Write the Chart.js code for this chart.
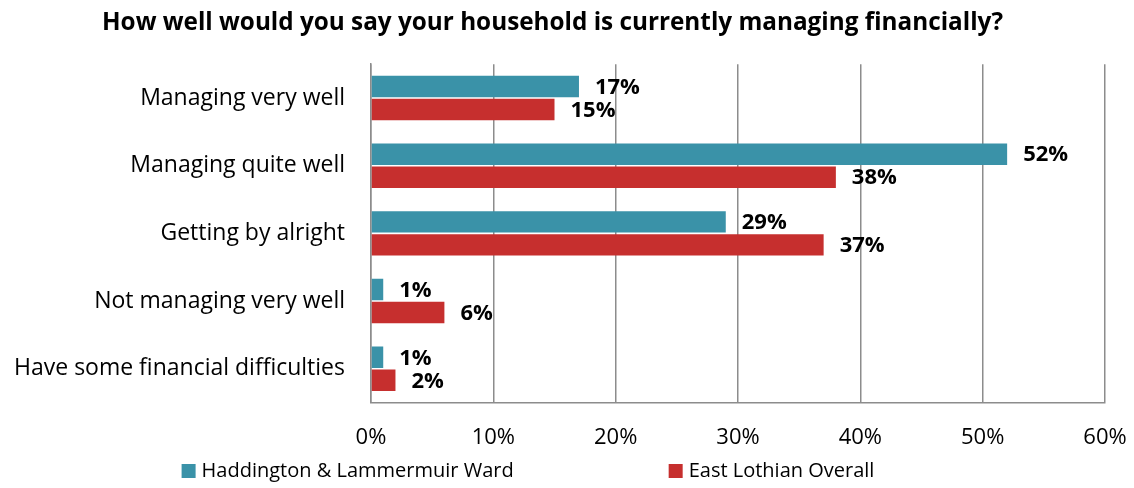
<!DOCTYPE html>
<html lang="en">
<head>
    <meta charset="UTF-8">
    <title>Household finances</title>
    <script src="https://cdn.jsdelivr.net/npm/chart.js"></script>
    <style>
        html, body { margin: 0; padding: 0; background: #ffffff; }
        #wrap { width: 1134px; height: 488px; }
    </style>
</head>
<body>
    <div id="wrap"><canvas id="financeChart"></canvas></div>
    <script>
        // Survey answers
        const categories = [
            'Managing very well',
            'Managing quite well',
            'Getting by alright',
            'Not managing very well',
            'Have some financial difficulties'
        ];
        const seriesNames = ['Haddington & Lammermuir Ward', 'East Lothian Overall'];
        const wardValues = [17, 52, 29, 1, 1];
        const overallValues = [15, 38, 37, 6, 2];
        const xTicks = [0, 10, 20, 30, 40, 50, 60];

        const FONT = '"Open Sans", sans-serif';

        // Bold percentage labels at the end of each bar
        const barLabels = {
            id: 'barLabels',
            afterDatasetsDraw(chart) {
                const ctx = chart.ctx;
                ctx.save();
                ctx.font = 'bold 22px ' + FONT;
                ctx.fillStyle = '#000000';
                ctx.textAlign = 'left';
                ctx.textBaseline = 'middle';
                chart.data.datasets.forEach((ds, i) => {
                    chart.getDatasetMeta(i).data.forEach((bar, j) => {
                        ctx.fillText(ds.data[j] + '%', bar.x + 16, bar.y + 1);
                    });
                });
                ctx.restore();
            }
        };

        // Legend row under the axis, with wide spacing between entries
        const wideLegend = {
            id: 'wideLegend',
            afterDraw(chart) {
                const ctx = chart.ctx;
                const gap = 155, box = 14;
                const y = chart.height - 17;
                ctx.save();
                ctx.font = '20px ' + FONT;
                ctx.textBaseline = 'middle';
                const items = chart.data.datasets.map(ds => ({
                    text: ds.label,
                    color: ds.backgroundColor,
                    w: box + 6 + ctx.measureText(ds.label).width
                }));
                const total = items.reduce((s, it) => s + it.w, 0) + gap * (items.length - 1);
                let x = chart.width / 2 - 39 - total / 2;
                items.forEach(it => {
                    ctx.fillStyle = it.color;
                    ctx.fillRect(x, y - box / 2, box, box);
                    ctx.fillStyle = '#000000';
                    ctx.fillText(it.text, x + box + 6, y);
                    x += it.w + gap;
                });
                ctx.restore();
            }
        };

        new Chart(document.getElementById('financeChart'), {
            type: 'bar',
            data: {
                labels: categories,
                datasets: [{
                    label: seriesNames[0],
                    data: wardValues,
                    backgroundColor: '#3A92A8',
                    categoryPercentage: 0.68,
                    barPercentage: 0.93
                }, {
                    label: seriesNames[1],
                    data: overallValues,
                    backgroundColor: '#C62F2E',
                    categoryPercentage: 0.68,
                    barPercentage: 0.93
                }]
            },
            options: {
                indexAxis: 'y',
                responsive: true,
                maintainAspectRatio: false,
                animation: false,
                layout: { padding: { left: 0, right: 29, top: 0, bottom: 15 } },
                scales: {
                    x: {
                        min: 0,
                        max: 60,
                        afterBuildTicks: (scale) => { scale.ticks = xTicks.map(v => ({ value: v })); },
                        afterFit: (scale) => { scale.paddingLeft = 0; scale.paddingRight = 0; },
                        grid: { color: '#8c8c8c', lineWidth: 1.5, drawTicks: false },
                        border: { color: '#8c8c8c', width: 1.5 },
                        ticks: {
                            callback: (v) => v + '%',
                            color: '#000000',
                            font: { family: FONT, size: 22 },
                            padding: 22
                        }
                    },
                    y: {
                        afterFit: (scale) => { scale.width = 371; },
                        grid: { display: false, drawTicks: false },
                        border: { color: '#8c8c8c', width: 1.5 },
                        ticks: {
                            color: '#000000',
                            font: { family: FONT, size: 23 },
                            padding: 26
                        }
                    }
                },
                plugins: {
                    title: {
                        display: true,
                        text: 'How well would you say your household is currently managing financially?',
                        color: '#000000',
                        font: { family: FONT, size: 24.3, weight: 'bold' },
                        padding: { top: 8, bottom: 27 }
                    },
                    legend: { display: false },
                    tooltip: { enabled: false }
                }
            },
            plugins: [barLabels, wideLegend]
        });
    </script>
</body>
</html>
